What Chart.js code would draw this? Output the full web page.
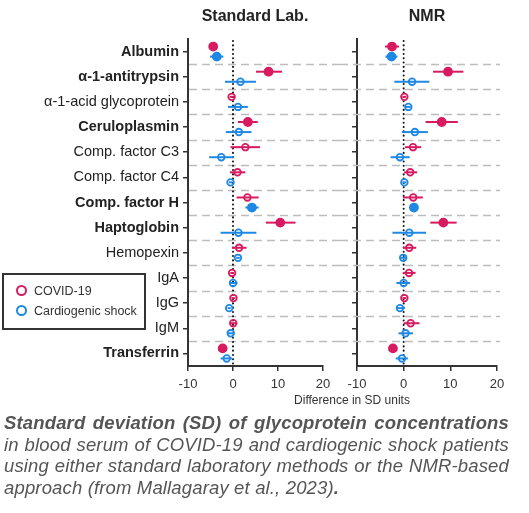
<!DOCTYPE html>
<html>
<head>
<meta charset="utf-8">
<script src="https://cdn.jsdelivr.net/npm/chart.js@4.4.1/dist/chart.umd.min.js"></script>
<style>
  body { margin: 0; background: #fff; font-family: 'Liberation Sans', Arial, sans-serif; }
  #page { position: relative; width: 529px; height: 513px; overflow: hidden; }
  .box { position: absolute; }
  .title { position: absolute; top: 7px; font-weight: bold; font-size: 16px; color: #222; transform: translateX(-50%); white-space: nowrap; }
  #xTitle { position: absolute; top: 393px; left: 352px; transform: translateX(-50%); font-size: 12px; color: #333; white-space: nowrap; }
  #legend { position: absolute; left: 2px; top: 273px; width: 140px; height: 53px; border: 2px solid #333; }
  .item { position: absolute; left: 12px; font-size: 12.5px; color: #333; white-space: nowrap; }
  .item span { display: inline-block; width: 7px; height: 7px; border: 2px solid; border-radius: 50%; vertical-align: -1px; margin-right: 7px; }
  #caption { position: absolute; left: 4px; top: 412px; width: 505px; color: #555; font-size: 18.5px; font-style: italic; line-height: 21.5px; letter-spacing: 0.15px; }
  #caption div { text-align: justify; text-align-last: justify; white-space: nowrap; }
  #caption div.last { text-align-last: left; }
</style>
</head>
<body>
<div id="page">
  <div class="box" style="left:0;top:0;width:340px;height:400px"><canvas id="labChart"></canvas></div>
  <div class="box" style="left:340px;top:0;width:189px;height:400px"><canvas id="nmrChart"></canvas></div>
  <div class="title" id="labTitle" style="left:255px">Standard Lab.</div>
  <div class="title" id="nmrTitle" style="left:427px">NMR</div>
  <div id="xTitle">Difference in SD units</div>
  <div id="legend"></div>
  <div id="caption">
    <div><b>Standard deviation (SD) of glycoprotein concentrations</b></div>
    <div>in blood serum of COVID-19 and cardiogenic shock patients</div>
    <div>using either standard laboratory methods or the NMR-based</div>
    <div class="last">approach (from Mallagaray et al., 2023)<b>.</b></div>
  </div>
</div>
<script>
// Data (selisih dalam satuan SD)
const categories = ['Albumin', 'α-1-antitrypsin', 'α-1-acid glycoprotein', 'Ceruloplasmin', 'Comp. factor C3',
    'Comp. factor C4', 'Comp. factor H', 'Haptoglobin', 'Hemopexin', 'IgA', 'IgG', 'IgM', 'Transferrin'];
const boldRows = [true, true, false, true, false, false, true, true, false, false, false, false, true];
const seriesNames = ['COVID-19', 'Cardiogenic shock'];
const seriesColors = ['#d81b60', '#1e88e5'];
const xTicks = [-10, 0, 10, 20];

// filled = signifikan
const covidFilled = [1, 1, 0, 1, 0, 0, 0, 1, 0, 0, 0, 0, 1];
const shockFilled = [1, 0, 0, 0, 0, 0, 1, 0, 0, 0, 0, 0, 0];

// Standard Lab.
const labCovid   = [-4.4, 7.9, -0.3, 3.3, 2.75, 1.0, 3.2, 10.5, 1.35, -0.2, 0.1, 0.05, -2.3];
const labCovidLo = [-4.7, 5.1, -0.7, 1.1, -0.55, -0.7, 0.8, 7.3, -0.2, -0.6, -0.3, -0.7, -2.6];
const labCovidHi = [-4.1, 10.9, 0.1, 5.5, 6.0, 2.75, 5.7, 13.9, 3.0, 0.2, 0.5, 0.9, -2.0];
const labShock   = [-3.6, 1.65, 1.1, 1.3, -2.6, -0.55, 4.2, 1.2, 1.1, 0, -0.85, -0.5, -1.4];
const labShockLo = [-5.1, -1.8, -1.1, -1.6, -5.3, -0.9, 2.75, -2.75, 0.7, -0.9, -1.2, -1.1, -2.75];
const labShockHi = [-2.15, 5.1, 3.3, 4.1, 0.2, -0.2, 5.7, 5.2, 1.5, 1.0, -0.5, 0.1, -0.2];

// NMR
const nmrCovid   = [-2.5, 9.5, 0.15, 8.15, 2.0, 1.4, 2.05, 8.5, 1.2, 1.15, 0.15, 1.5, -2.3];
const nmrCovidLo = [-4.0, 6.3, -0.25, 4.7, 0.3, 0.1, -0.15, 5.7, -0.15, -0.15, -0.25, 0, -2.6];
const nmrCovidHi = [-1.0, 12.8, 0.55, 11.6, 3.75, 2.9, 4.1, 11.35, 2.7, 2.55, 0.55, 3.4, -2.0];
const nmrShock   = [-2.6, 1.8, 1.0, 2.4, -0.8, 0.15, 2.2, 1.2, -0.1, 0, -0.8, 0.4, -0.35];
const nmrShockLo = [-3.9, -2.0, 0.5, -0.4, -2.8, -0.25, 1.9, -2.4, -0.7, -1.55, -1.55, -1.1, -1.7];
const nmrShockHi = [-1.35, 5.5, 1.5, 5.2, 1.3, 0.55, 2.5, 4.8, 0.5, 1.4, 0.2, 2.0, 0.9];

const FONT = "'Liberation Sans', Arial, sans-serif";
const AXIS = '#333';

// legenda HTML
document.getElementById('legend').innerHTML = seriesNames.map((n, i) =>
    `<div class="item" style="top:${9 + i * 20}px"><span style="border-color:${seriesColors[i]}"></span>${n}</div>`).join('');

// garis putus-putus antar baris, garis titik di x=0, error bar
const panelDecor = {
    id: 'panelDecor',
    beforeDatasetsDraw(chart, args, opts) {
        const { ctx, chartArea } = chart;
        const x = chart.scales.x, y = chart.scales.y;
        ctx.save();
        // separator
        ctx.strokeStyle = '#bdbdbd';
        ctx.lineWidth = 1.3;
        ctx.setLineDash([8, 5]);
        const from = opts.fromZero ? 0 : chartArea.left + 1;
        const to = opts.fromZero ? chartArea.right + 3 : chart.width;
        for (let i = 0; i < categories.length - 1; i++) {
            const py = Math.round(y.getPixelForValue(i + 0.5)) + 0.5;
            ctx.beginPath(); ctx.moveTo(from, py); ctx.lineTo(to, py); ctx.stroke();
        }
        // zero line
        ctx.strokeStyle = '#111';
        ctx.lineWidth = 2;
        ctx.lineCap = 'round';
        ctx.setLineDash([0.1, 4.2]);
        const x0 = x.getPixelForValue(0);
        ctx.beginPath(); ctx.moveTo(x0, chartArea.top + 2); ctx.lineTo(x0, chartArea.bottom); ctx.stroke();
        // error bars
        ctx.setLineDash([]);
        ctx.lineCap = 'butt';
        ctx.lineWidth = 2;
        chart.data.datasets.forEach(ds => {
            ctx.strokeStyle = ds.borderColor;
            ds.data.forEach(p => {
                const py = y.getPixelForValue(p.y);
                ctx.beginPath();
                ctx.moveTo(x.getPixelForValue(p.lo), py);
                ctx.lineTo(x.getPixelForValue(p.hi), py);
                ctx.stroke();
            });
        });
        ctx.restore();
    }
};

function makeSeries(vals, lo, hi, filled, idx, shift) {
    const color = seriesColors[idx];
    return {
        label: seriesNames[idx],
        data: vals.map((v, i) => ({ x: v, y: i + shift, lo: lo[i], hi: hi[i] })),
        borderColor: color,
        pointBackgroundColor: filled.map(f => f ? color : 'rgba(255,255,255,0)'),
        pointBorderColor: color,
        pointBorderWidth: 1.8,
        pointRadius: filled.map(f => f ? 4 : 3.3),
        showLine: false
    };
}

function makeChart(canvasId, datasets, withLabels, yWidth, padRight) {
    return new Chart(document.getElementById(canvasId), {
        type: 'scatter',
        data: { datasets },
        options: {
            responsive: true,
            maintainAspectRatio: false,
            animation: false,
            layout: { padding: { top: 39, right: padRight, bottom: 0, left: 0 } },
            plugins: { legend: { display: false }, tooltip: { enabled: false }, panelDecor: { fromZero: !withLabels } },
            scales: {
                x: {
                    min: -10, max: 20,
                    afterBuildTicks: s => { s.ticks = xTicks.map(v => ({ value: v })); },
                    afterFit: s => { s.height = 34; },
                    grid: { drawOnChartArea: false, drawTicks: true, tickLength: 5, color: AXIS, lineWidth: 1.5 },
                    border: { display: true, color: AXIS, width: 2 },
                    ticks: { color: '#333', padding: 6, font: { family: FONT, size: 13 } }
                },
                y: {
                    reverse: true,
                    min: -0.5, max: categories.length - 0.5,
                    afterBuildTicks: s => { s.ticks = categories.map((_, i) => ({ value: i })); },
                    afterFit: s => { s.width = yWidth; },
                    grid: { drawOnChartArea: false, drawTicks: true, tickLength: 5, color: AXIS, lineWidth: 1.5 },
                    border: { display: true, color: AXIS, width: 2 },
                    ticks: {
                        color: '#222',
                        padding: 4,
                        callback: v => withLabels ? categories[v] : '',
                        font: c => ({ family: FONT, size: 14.5, weight: boldRows[c.index] ? 'bold' : 'normal' })
                    }
                }
            }
        },
        plugins: [panelDecor]
    });
}

makeChart('labChart', [
    makeSeries(labCovid, labCovidLo, labCovidHi, covidFilled, 0, -0.2),
    makeSeries(labShock, labShockLo, labShockHi, shockFilled, 1, 0.2)
], true, 188, 17);

makeChart('nmrChart', [
    makeSeries(nmrCovid, nmrCovidLo, nmrCovidHi, covidFilled, 0, -0.2),
    makeSeries(nmrShock, nmrShockLo, nmrShockHi, shockFilled, 1, 0.2)
], false, 17, 32);
</script>
</body>
</html>
